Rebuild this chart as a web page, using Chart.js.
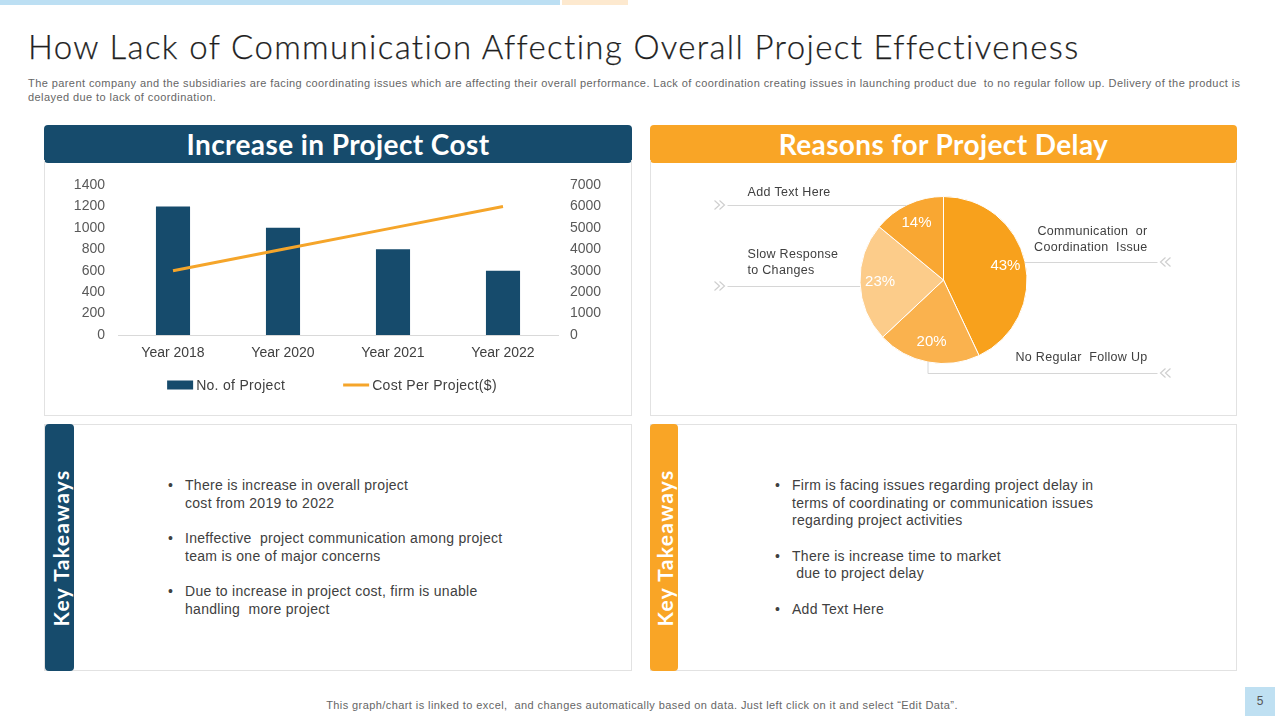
<!DOCTYPE html>
<html>
<head>
<meta charset="utf-8">
<script src="https://cdn.jsdelivr.net/npm/chart.js@4.4.0/dist/chart.umd.min.js"></script>
<style>
  html, body { margin: 0; padding: 0; }
  body { width: 1280px; height: 720px; position: relative; background: #fff; overflow: hidden; font-family: "Liberation Sans", Arial, sans-serif; }
  .abs { position: absolute; }
  .topbar-a { left: 0; top: 0; width: 560px; height: 5px; background: #bcdff3; }
  .topbar-b { left: 562px; top: 0; width: 66px; height: 5px; background: #fde9cf; }
  .title { left: 28px; top: 26px; font-family: Lato, "DejaVu Sans", sans-serif; font-weight: 300; font-size: 33px; color: #1f1f1f; white-space: nowrap; letter-spacing: 1.36px; -webkit-text-stroke: 0.25px #1f1f1f; }
  .sub { left: 28px; top: 76px; width: 1240px; font-size: 11px; line-height: 14px; color: #666; letter-spacing: 0.42px; white-space: nowrap; }
  .head { height: 38px; border-radius: 4px; color: #fff; font-family: Lato, sans-serif; font-weight: 700; font-size: 28px; line-height: 38px; text-align: center; letter-spacing: 0.4px; }
  .panel { border: 1px solid #e2e2e2; box-sizing: border-box; }
  .tab { border-radius: 4px; }
  .tab span { position: absolute; left: 50%; top: 50%; transform: translate(-50%, -50%) rotate(-90deg); white-space: nowrap; color: #fff; font-family: Lato, sans-serif; font-weight: 700; font-size: 21px; letter-spacing: 1.3px; }
  ul { position: absolute; margin: 0; padding: 0; list-style: none; font-size: 14px; line-height: 17.5px; color: #404040; letter-spacing: 0.28px; }
  ul li { position: relative; padding-left: 17px; margin-bottom: 18px; white-space: nowrap; }
  ul li::before { content: "\2022"; position: absolute; left: 0; top: 0; color: #404040; }
  .foot { left: 0; width: 1280px; top: 699px; text-align: center; font-size: 11px; color: #666; letter-spacing: 0.42px; padding-left: 2px; }
  .pnum { left: 1245px; top: 687px; width: 30px; height: 29px; background: #bfe0f2; font-size: 12px; color: #555; text-align: center; line-height: 29px; }
</style>
</head>
<body>
<div class="abs topbar-a"></div>
<div class="abs topbar-b"></div>
<div class="abs title">How Lack of Communication Affecting Overall Project Effectiveness</div>
<div class="abs sub">The parent company and the subsidiaries are facing coordinating issues which are affecting their overall performance. Lack of coordination creating issues in launching product due&nbsp; to no regular follow up. Delivery of the product is<br>delayed due to lack of coordination.</div>

<div class="abs head" style="left:44px;top:125px;width:588px;background:#164b6c;">Increase in Project Cost</div>
<div class="abs panel" style="left:44px;top:160px;width:588px;height:256px;border-top:none;"></div>
<div class="abs" style="left:45px;top:163px;width:586px;height:251px;"><canvas id="barChart"></canvas></div>

<div class="abs head" style="left:650px;top:125px;width:587px;background:#f9a526;">Reasons for Project Delay</div>
<div class="abs panel" style="left:650px;top:160px;width:587px;height:256px;border-top:none;"></div>
<div class="abs" style="left:651px;top:163px;width:585px;height:251px;"><canvas id="pieChart"></canvas></div>

<div class="abs panel" style="left:44px;top:424px;width:588px;height:247px;"></div>
<div class="abs tab" style="left:45px;top:424px;width:29px;height:247px;background:#164b6c;"><span>Key Takeaways</span></div>
<ul style="left:168px;top:477px;width:380px;">
  <li>There is increase in overall project<br>cost from 2019 to 2022</li>
  <li>Ineffective&nbsp; project communication among project<br>team is one of major concerns</li>
  <li>Due to increase in project cost, firm is unable<br>handling&nbsp; more project</li>
</ul>

<div class="abs panel" style="left:650px;top:424px;width:587px;height:247px;"></div>
<div class="abs tab" style="left:650px;top:424px;width:28px;height:247px;background:#f9a526;"><span>Key Takeaways</span></div>
<ul style="left:775px;top:477px;width:400px;">
  <li>Firm is facing issues regarding project delay in<br>terms of coordinating or communication issues<br>regarding project activities</li>
  <li>There is increase time to market<br>&nbsp;due to project delay</li>
  <li>Add Text Here</li>
</ul>

<div class="abs foot">This graph/chart is linked to excel,&nbsp; and changes automatically based on data. Just left click on it and select “Edit Data”.</div>
<div class="abs pnum">5</div>

<script>
// chart data
const years = ['Year 2018', 'Year 2020', 'Year 2021', 'Year 2022'];
const projectCount = [1200, 1000, 800, 600];
const costPerProject = [3000, 4000, 5000, 6000];

const delayReasons = ['Communication or Coordination Issue', 'No Regular Follow Up', 'Slow Response to Changes', 'Add Text Here'];
const delayShare = [43, 20, 23, 14];

const BLUE = '#164b6c';
const ORANGE = '#f5a52a';
const TICK = '#595959';
const FONT = '"Liberation Sans", Arial, sans-serif';

Chart.defaults.font.family = FONT;
Chart.defaults.animation = false;

// legend drawn under the x labels, spaced like the excel one
const barLegend = {
    id: 'barLegend',
    afterDraw(chart){
        const ctx = chart.ctx;
        const y = chart.chartArea.bottom + 50;
        ctx.save();
        ctx.font = '14px ' + FONT;
        ctx.letterSpacing = '0.3px';
        ctx.textBaseline = 'middle';
        const items = chart.data.datasets.map(ds => ({ text: ds.label, color: ds.borderColor || ds.backgroundColor, type: ds.type || 'bar' }));
        const sw = 26, gapText = 3, gapItem = 58;
        let total = 0;
        items.forEach((it, i) => { total += sw + gapText + ctx.measureText(it.text).width + (i ? gapItem : 0); });
        let x = chart.width / 2 - total / 2 - 6;
        items.forEach((it, i) => {
            if(i) x += gapItem;
            if(it.type === 'line'){
                ctx.strokeStyle = it.color; ctx.lineWidth = 3;
                ctx.beginPath(); ctx.moveTo(x, y); ctx.lineTo(x + sw, y); ctx.stroke();
            } else {
                ctx.fillStyle = it.color; ctx.fillRect(x, y - 4.5, sw, 9);
            }
            x += sw + gapText;
            ctx.fillStyle = '#404040';
            ctx.fillText(it.text, x, y + 1);
            x += ctx.measureText(it.text).width;
        });
        ctx.restore();
    }
};

const plain = v => String(v);

new Chart(document.getElementById('barChart'), {
    data: {
        labels: years,
        datasets: [
            { type: 'bar', label: 'No. of Project', data: projectCount, yAxisID: 'y', backgroundColor: BLUE, barPercentage: 0.31, categoryPercentage: 1, order: 1 },
            { type: 'line', label: 'Cost Per Project($)', data: costPerProject, yAxisID: 'y1', borderColor: ORANGE, backgroundColor: ORANGE, borderWidth: 3, pointRadius: 0, tension: 0, order: 0 }
        ]
    },
    options: {
        responsive: true, maintainAspectRatio: false,
        layout: { padding: { top: 22, left: 0, right: 0, bottom: 0 } },
        plugins: { legend: { display: false }, tooltip: { enabled: false } },
        scales: {
            x: {
                grid: { display: false, drawTicks: false },
                border: { display: true, color: '#d9d9d9', width: 1 },
                ticks: { color: '#404040', font: { size: 14 }, padding: 10 },
                afterFit: s => { s.height = 79; }
            },
            y: {
                position: 'left', min: 0, max: 1400,
                grid: { display: false, drawTicks: false },
                border: { display: false },
                ticks: { stepSize: 200, color: TICK, font: { size: 14 }, padding: 13, callback: plain },
                afterFit: s => { s.width = 73; }
            },
            y1: {
                position: 'right', min: 0, max: 7000,
                grid: { display: false, drawTicks: false },
                border: { display: false },
                ticks: { stepSize: 1000, color: TICK, font: { size: 14 }, padding: 12, callback: plain },
                afterFit: s => { s.width = 73; }
            }
        }
    },
    plugins: [barLegend]
});

// callouts around the pie: text, chevrons and leader lines (offsets from pie centre)
const callouts = [
    { side: 'left', lines: ['Add Text Here'], textY: -87, lineY: -75 },
    { side: 'left', lines: ['Slow Response', 'to Changes'], textY: -25, lineY: 6 },
    { side: 'right', lines: ['Communication  or', 'Coordination  Issue'], textY: -48, lineY: -18 },
    { side: 'right', lines: ['No Regular  Follow Up'], textY: 78, lineY: 93, dropX: -16 }
];

function chevrons(ctx, x, y, dir){
    ctx.save();
    ctx.strokeStyle = '#cfcfcf'; ctx.lineWidth = 1.2;
    for(let k = 0; k < 2; k++){
        const cx = x + k * 5 * dir;
        ctx.beginPath();
        ctx.moveTo(cx - 3 * dir, y - 4.5);
        ctx.lineTo(cx + 2 * dir, y);
        ctx.lineTo(cx - 3 * dir, y + 4.5);
        ctx.stroke();
    }
    ctx.restore();
}

const pieDecor = {
    id: 'pieDecor',
    afterDraw(chart){
        const ctx = chart.ctx;
        const arcs = chart.getDatasetMeta(0).data;
        const a0 = arcs[0];
        const cx = a0.x, cy = a0.y, r = a0.outerRadius;
        ctx.save();
        // percentage labels
        ctx.fillStyle = '#fff';
        ctx.font = '15px ' + FONT;
        ctx.textAlign = 'center'; ctx.textBaseline = 'middle';
        arcs.forEach((arc, i) => {
            const mid = (arc.startAngle + arc.endAngle) / 2;
            const rr = r * 0.76;
            ctx.fillText(delayShare[i] + '%', cx + Math.cos(mid) * rr, cy + Math.sin(mid) * rr);
        });
        // callouts
        ctx.font = '12.5px ' + FONT;
        ctx.letterSpacing = '0.3px';
        ctx.fillStyle = '#404040';
        ctx.strokeStyle = '#d6d6d6'; ctx.lineWidth = 1;
        callouts.forEach(c => {
            ctx.textBaseline = 'middle';
            const ly = cy + c.lineY;
            if(c.side === 'left'){
                ctx.textAlign = 'left';
                c.lines.forEach((t, i) => ctx.fillText(t, cx - 196, cy + c.textY + i * 16));
                const edge = cx - Math.sqrt(Math.max(r * r - c.lineY * c.lineY, 0));
                ctx.beginPath(); ctx.moveTo(cx - 216, ly + 0.5); ctx.lineTo(edge, ly + 0.5); ctx.stroke();
                chevrons(ctx, cx - 226, ly, 1);
            } else {
                ctx.textAlign = 'right';
                c.lines.forEach((t, i) => ctx.fillText(t, cx + 204, cy + c.textY + i * 16));
                ctx.beginPath();
                if(c.dropX !== undefined){
                    const sy = cy + Math.sqrt(r * r - c.dropX * c.dropX);
                    ctx.moveTo(cx + c.dropX + 0.5, sy);
                    ctx.lineTo(cx + c.dropX + 0.5, ly + 0.5);
                    ctx.lineTo(cx + 214, ly + 0.5);
                } else {
                    const edge = cx + Math.sqrt(Math.max(r * r - c.lineY * c.lineY, 0));
                    ctx.moveTo(edge, ly + 0.5); ctx.lineTo(cx + 214, ly + 0.5);
                }
                ctx.stroke();
                chevrons(ctx, cx + 224, ly, -1);
            }
        });
        ctx.restore();
    }
};

new Chart(document.getElementById('pieChart'), {
    type: 'pie',
    data: {
        labels: delayReasons,
        datasets: [{
            data: delayShare,
            backgroundColor: ['#f8a11c', '#fab24e', '#fccc8a', '#f9a732'],
            borderColor: '#ffffff',
            borderWidth: 1
        }]
    },
    options: {
        responsive: true, maintainAspectRatio: false,
        layout: { padding: { top: 33, bottom: 50, left: 0, right: 0 } },
        plugins: { legend: { display: false }, tooltip: { enabled: false } }
    },
    plugins: [pieDecor]
});
</script>
</body>
</html>
